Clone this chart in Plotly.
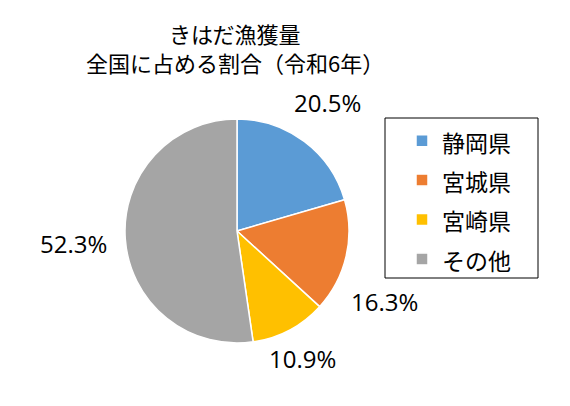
import plotly.graph_objects as go

labels = ["静岡県", "宮城県", "宮崎県", "その他"]
values = [20.5, 16.3, 10.9, 52.3]
colors = ["#5B9BD5", "#ED7D31", "#FFC000", "#A5A5A5"]
label_pos = [(327, 102), (384, 301), (302, 358), (74, 243)]
title_lines = ["きはだ漁獲量", "全国に占める割合（令和6年）"]

W, H = 570, 406
FONT = "Noto Sans CJK JP"
NUMFONT = "Open Sans"

fig = go.Figure()
fig.add_trace(go.Pie(
    labels=[f'<span style="font-size:23px">{l}</span>' for l in labels],
    values=values, sort=False, direction="clockwise", rotation=0,
    marker=dict(colors=colors, line=dict(color="white", width=1.5)),
    textinfo="none", hoverinfo="label+percent",
    domain=dict(x=[125 / W, 349 / W], y=[1 - 343 / H, 1 - 119 / H]),
))

ann = []
for v, (px, py) in zip(values, label_pos):
    ann.append(dict(x=px / W, y=1 - py / H, xref="paper", yref="paper",
                    text=f"{v:.1f}%", showarrow=False,
                    font=dict(family=NUMFONT, size=24, color="#000000"),
                    xanchor="center", yanchor="middle"))
for t, py in zip(title_lines, [33, 62]):
    ann.append(dict(x=235 / W, y=1 - py / H, xref="paper", yref="paper",
                    text=t, showarrow=False, borderpad=0,
                    font=dict(family=FONT, size=22, color="#000000"),
                    xanchor="center", yanchor="middle"))

shapes = [dict(type="rect", xref="paper", yref="paper",
               x0=385 / W, x1=538 / W, y0=1 - 278 / H, y1=1 - 118 / H,
               line=dict(color="#000000", width=1), fillcolor="rgba(0,0,0,0)")]

fig.update_layout(
    width=W, height=H, margin=dict(l=0, r=0, t=0, b=0),
    paper_bgcolor="white", plot_bgcolor="white",
    annotations=ann,
    shapes=shapes,
    showlegend=True,
    legend=dict(x=402 / W, y=1 - 116 / H, xanchor="left", yanchor="top",
                bgcolor="rgba(0,0,0,0)", borderwidth=0,
                font=dict(family=FONT, size=28, color="#000000"),
                itemwidth=30),
)
fig.write_html("out.html")
